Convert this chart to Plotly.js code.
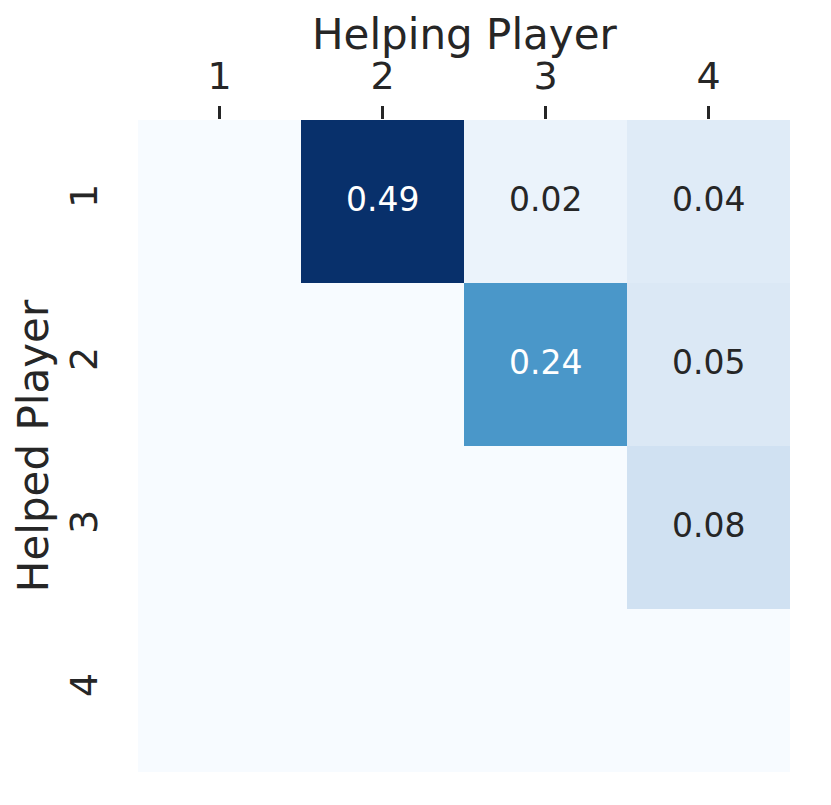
<!DOCTYPE html>
<html>
<head>
<meta charset="utf-8">
<script src="https://cdn.plot.ly/plotly-3.0.1.min.js"></script>
<style>html,body{margin:0;padding:0;background:#fff;}#chart{width:831px;height:805px;}</style>
</head>
<body>
<div id="chart"></div>
<script>
const helpingPlayers = [1, 2, 3, 4];
const helpedPlayers = [1, 2, 3, 4];
const row1 = [0, 0.49, 0.02, 0.04];
const row2 = [0, 0, 0.24, 0.05];
const row3 = [0, 0, 0, 0.08];
const row4 = [0, 0, 0, 0];
const values = [row1, row2, row3, row4];
const zMax = 0.49;
const xTitle = 'Helping Player';
const yTitle = 'Helped Player';

const colorscale = [
  [0, '#f7fbff'],
  [0.041, '#ebf3fb'],
  [0.082, '#dfebf7'],
  [0.102, '#dbe8f5'],
  [0.163, '#d0e1f2'],
  [0.49, '#4a97c9'],
  [1, '#08306b']
];

const annotations = [];
values.forEach((row, i) => {
  row.forEach((v, j) => {
    if (v > 0) {
      annotations.push({
        x: helpingPlayers[j], y: helpedPlayers[i], xref: 'x', yref: 'y',
        text: v.toFixed(2), showarrow: false, yshift: 2,
        font: {family: 'DejaVu Sans', size: 33, color: v / zMax > 0.4 ? '#ffffff' : '#262626'}
      });
    }
  });
});
annotations.push({
  text: xTitle, xref: 'paper', yref: 'paper', x: 0.5, y: 1, xanchor: 'center', yanchor: 'middle',
  yshift: 86, showarrow: false, font: {family: 'DejaVu Sans', size: 42, color: '#262626'}
});

const trace = {
  type: 'heatmap', x: helpingPlayers, y: helpedPlayers, z: values,
  zmin: 0, zmax: zMax, colorscale: colorscale, showscale: false,
  xgap: 0, ygap: 0, hoverinfo: 'skip'
};

const layout = {
  width: 831, height: 805,
  margin: {l: 138, r: 41, t: 120, b: 33},
  paper_bgcolor: '#ffffff', plot_bgcolor: '#ffffff',
  font: {family: 'DejaVu Sans', color: '#262626'},
  xaxis: {
    side: 'top', range: [0.5, 4.5], tickvals: helpingPlayers, ticktext: helpingPlayers.map(String),
    ticks: 'outside', ticklen: 13, tickwidth: 2.5, tickcolor: '#262626',
    tickfont: {size: 38, color: '#262626'}, ticklabelstandoff: 2,
    showgrid: false, zeroline: false, showline: false
  },
  yaxis: {
    range: [4.5, 0.5], tickvals: helpedPlayers, ticktext: helpedPlayers.map(String),
    ticks: '', tickangle: -90, tickfont: {size: 38, color: '#262626'}, ticklabelstandoff: 32,
    showgrid: false, zeroline: false, showline: false,
    title: {text: yTitle, font: {size: 42, color: '#262626'}, standoff: 0},
    automargin: true
  },
  annotations: annotations
};

Plotly.newPlot('chart', [trace], layout, {displayModeBar: false, staticPlot: true});
</script>
</body>
</html>
